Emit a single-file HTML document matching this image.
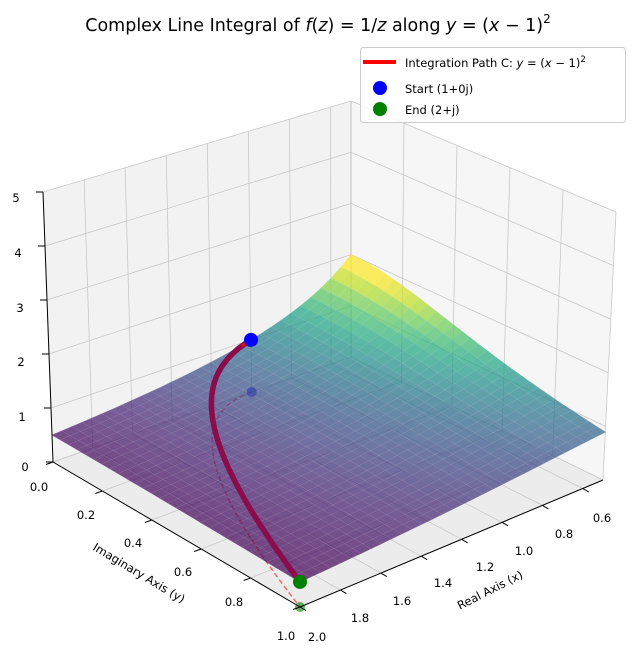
<!DOCTYPE html>
<html><head><meta charset="utf-8">
<style>
body{margin:0;background:#fff;}
svg text{font-family:"DejaVu Sans","Liberation Sans",sans-serif;}
</style></head>
<body>
<svg id="s" width="636" height="666" viewBox="0 0 636 666" xmlns="http://www.w3.org/2000/svg">
<text x="318" y="31" font-size="17.5" text-anchor="middle" fill="#000">Complex Line Integral of <tspan font-style="italic">f</tspan>(<tspan font-style="italic">z</tspan>) = 1/<tspan font-style="italic">z</tspan> along <tspan font-style="italic">y</tspan> = (<tspan font-style="italic">x</tspan> − 1)<tspan font-size="12" dy="-8">2</tspan></text>
<g id="g"></g>
<rect x="360.5" y="47.5" width="265" height="75" rx="3" fill="#fff" fill-opacity="0.85" stroke="#ccc"/>
<line x1="363" y1="62" x2="396" y2="62" stroke="#f00" stroke-width="4"/>
<text x="405" y="67" font-size="11.5">Integration Path C: <tspan font-style="italic">y</tspan> = (<tspan font-style="italic">x</tspan> − 1)<tspan font-size="8.5" dy="-5">2</tspan></text>
<circle cx="380" cy="88" r="7" fill="#00f"/>
<text x="405" y="93" font-size="11.5">Start (1+0j)</text>
<circle cx="380" cy="109" r="7" fill="#008000"/>
<text x="405" y="114" font-size="11.5">End (2+j)</text>
</svg>
<script>
var L=[53,462],B=[351,357],R=[603,480],F=[300,607];
var ZL=[-2,-54],ZB=[0,-51.2],ZR=[2.6,-53.6],ZF=[0,-56];
function bl(a,b,c,d,u,v,i){return (1-u)*(1-v)*a[i]+u*(1-v)*b[i]+u*v*c[i]+(1-u)*v*d[i];}
function P(x,y,z){var u=(2-x)/1.5,v=y;
 return [bl(L,B,R,F,u,v,0)+z*bl(ZL,ZB,ZR,ZF,u,v,0), bl(L,B,R,F,u,v,1)+z*bl(ZL,ZB,ZR,ZF,u,v,1)];}
function pt(p){return p[0].toFixed(1)+","+p[1].toFixed(1);}
var out=[];
function poly(ps,fill,extra){out.push('<polygon points="'+ps.map(pt).join(" ")+'" fill="'+fill+'" '+(extra||'')+'/>');}
function line(a,b,st){out.push('<line x1="'+a[0].toFixed(1)+'" y1="'+a[1].toFixed(1)+'" x2="'+b[0].toFixed(1)+'" y2="'+b[1].toFixed(1)+'" '+st+'/>');}
function txt(p,s,extra){out.push('<text x="'+p[0].toFixed(1)+'" y="'+p[1].toFixed(1)+'" font-size="11.5" '+(extra||'')+'>'+s+'</text>');}
poly([P(2,0,0),P(0.5,0,0),P(0.5,0,5),P(2,0,5)],"#f2f2f2");
poly([P(0.5,0,0),P(0.5,1,0),P(0.5,1,5),P(0.5,0,5)],"#f6f6f6");
poly([P(2,0,0),P(0.5,0,0),P(0.5,1,0),P(2,1,0)],"#ececec");
var gs='stroke="#c8c8c8" stroke-width="0.8"';
var xt=[0.6,0.8,1.0,1.2,1.4,1.6,1.8,2.0],yt=[0,0.2,0.4,0.6,0.8,1.0];
xt.forEach(function(x){line(P(x,0,0),P(x,0,5),gs);line(P(x,0,0),P(x,1,0),gs);});
yt.forEach(function(y){line(P(0.5,y,0),P(0.5,y,5),gs);line(P(2,y,0),P(0.5,y,0),gs);});
for(var z=0;z<=5;z++){line(P(2,0,z),P(0.5,0,z),gs);line(P(0.5,0,z),P(0.5,1,z),gs);}
line(P(0.5,0,0),P(0.5,0,5),'stroke="#bbb" stroke-width="0.8"');
var N=60,path=[],proj=[];
for(var i=0;i<=N;i++){var x=1+i/N,y=(x-1)*(x-1),m=1/Math.sqrt(x*x+y*y);path.push(P(x,y,m));proj.push(P(x,y,0));}
out.push('<polyline points="'+proj.map(pt).join(" ")+'" fill="none" stroke="#f00" stroke-opacity="0.55" stroke-width="1.5" stroke-dasharray="5,3"/>');
out.push('<circle cx="'+proj[0][0]+'" cy="'+proj[0][1]+'" r="5" fill="#00f" fill-opacity="0.6"/>');
out.push('<circle cx="'+proj[N][0]+'" cy="'+proj[N][1]+'" r="5" fill="#008000" fill-opacity="0.6"/>');
var vs=["#440154","#482475","#414487","#355f8d","#2a788e","#21918c","#22a884","#44bf70","#7ad151","#bddf26","#fde725"];
function hx(h){return [parseInt(h.substr(1,2),16),parseInt(h.substr(3,2),16),parseInt(h.substr(5,2),16)];}
function vir(t){t=Math.max(0,Math.min(1,t));var f=t*10,i=Math.min(9,Math.floor(f)),r=f-i,a=hx(vs[i]),b=hx(vs[i+1]);
 return "rgb("+[0,1,2].map(function(k){return Math.round(a[k]+(b[k]-a[k])*r);}).join(",")+")";}
var n=30,zmin=1/Math.sqrt(5),zmax=1.85,quads=[];
function f(x,y){return 1/Math.sqrt(x*x+y*y);}
for(var a=0;a<n;a++)for(var b=0;b<n;b++){
 var x0=0.5+1.5*a/n,x1=0.5+1.5*(a+1)/n,y0=b/n,y1=(b+1)/n;
 var zc=f((x0+x1)/2,(y0+y1)/2);
 quads.push({d:(2-(x0+x1)/2)/1.5+(1-(y0+y1)/2),ps:[P(x0,y0,f(x0,y0)),P(x1,y0,f(x1,y0)),P(x1,y1,f(x1,y1)),P(x0,y1,f(x0,y1))],c:vir((zc-zmin)/(zmax-zmin))});}
quads.sort(function(p,q){return q.d-p.d;});
out.push('<g opacity="0.72">');
quads.forEach(function(q){poly(q.ps,q.c,'stroke="'+q.c+'" stroke-width="0.6"');});
quads.forEach(function(q){out.push('<polygon points="'+q.ps.map(pt).join(" ")+'" fill="none" stroke="#fff" stroke-opacity="0.1" stroke-width="0.5"/>');});
out.push('</g>');
// path (drawn as seen through surface)
out.push('<polyline points="'+path.map(pt).join(" ")+'" fill="none" stroke="#8a0c4c" stroke-width="5.5" stroke-linecap="round"/>');
out.push('<polyline points="'+path.slice(0,4).map(pt).join(" ")+'" fill="none" stroke="#e01010" stroke-width="3"/>');
out.push('<circle cx="'+path[0][0]+'" cy="'+path[0][1]+'" r="7" fill="#00f"/>');
out.push('<circle cx="'+path[N][0]+'" cy="'+path[N][1]+'" r="7" fill="#008000"/>');
var ax='stroke="#000" stroke-width="1"';
line(P(2,0,0),P(2,1,0),ax);line(P(2,1,0),P(0.5,1,0),ax);line(P(2,0,0),P(2,0,5),ax);
yt.forEach(function(y){var p=P(2,y,0);line(p,[p[0]-7,p[1]+2.5],ax);});
xt.forEach(function(x){var p=P(x,1,0);line(p,[p[0]+6,p[1]+3.5],ax);});
for(var z=0;z<=5;z++){var p=P(2,0,z);line(p,[p[0]-7,p[1]],ax);}
var yl=[[39,491],[86,519],[133,547],[183,576],[234,606],[286,640]];
yt.forEach(function(y,i){txt(yl[i],y.toFixed(1),'text-anchor="middle"');});
var xl=[[602,522],[564,538],[524,555],[485,571],[443,587],[402,605],[360,622],[317,641]];
xt.forEach(function(x,i){txt(xl[i],x.toFixed(1),'text-anchor="middle"');});
var zl=[[25,471],[22,421],[21,366],[20,312],[18,257],[16,202]];
zl.forEach(function(p,i){txt(p,String(i),'text-anchor="middle"');});
txt([139,577],"Imaginary Axis (y)",'text-anchor="middle" transform="rotate(31 139 573)"');
txt([490,594],"Real Axis (x)",'text-anchor="middle" transform="rotate(-27 490 590)"');
document.getElementById("g").innerHTML=out.join("");
</script>
</body></html>
